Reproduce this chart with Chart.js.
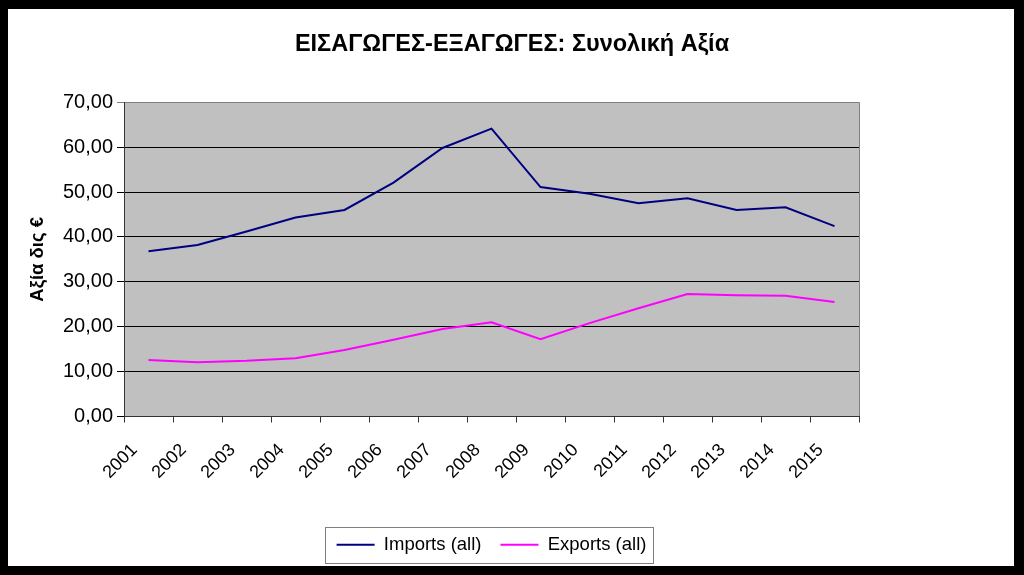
<!DOCTYPE html>
<html>
<head>
<meta charset="utf-8">
<title>ΕΙΣΑΓΩΓΕΣ-ΕΞΑΓΩΓΕΣ</title>
<script src="https://cdn.jsdelivr.net/npm/chart.js@4/dist/chart.umd.min.js"></script>
<style>
    html, body { margin: 0; padding: 0; background: #000; }
    canvas { display: block; }
</style>
</head>
<body>
<canvas id="tradeChart" width="1024" height="575"></canvas>
<script>
const years = ['2001', '2002', '2003', '2004', '2005', '2006', '2007', '2008',
               '2009', '2010', '2011', '2012', '2013', '2014', '2015'];
const importsAll = [36.8, 38.2, 41.2, 44.3, 46.0, 52.1, 59.8, 64.1,
                    51.1, 49.6, 47.5, 48.6, 46.0, 46.6, 42.4];
const exportsAll = [12.6, 12.1, 12.4, 13.0, 14.8, 17.1, 19.5, 21.0,
                    17.2, 20.8, 24.1, 27.3, 27.0, 26.9, 25.5];
const seriesNames = ['Imports (all)', 'Exports (all)'];
const chartTitle = 'ΕΙΣΑΓΩΓΕΣ-ΕΞΑΓΩΓΕΣ: Συνολική Αξία';
const yAxisTitle = 'Αξία δις €';

Chart.defaults.font.family = '"Liberation Sans", Arial, sans-serif';
Chart.defaults.color = '#000';

// black frame, white page, grey plot area, legend box
const framePlugin = {
    id: 'frame',
    beforeDraw(chart) {
        const { ctx, width, height, chartArea: a } = chart;
        ctx.save();
        ctx.fillStyle = '#000';
        ctx.fillRect(0, 0, width, height);
        ctx.fillStyle = '#fff';
        ctx.fillRect(8, 9, width - 18, height - 18);
        ctx.fillStyle = '#c0c0c0';
        ctx.fillRect(a.left, a.top, a.right - a.left, a.bottom - a.top);
        ctx.strokeStyle = '#808080';
        ctx.lineWidth = 1;
        ctx.beginPath();
        ctx.moveTo(Math.round(a.right) + 0.5, a.top);
        ctx.lineTo(Math.round(a.right) + 0.5, a.bottom);
        ctx.stroke();
        ctx.restore();
    },
    afterDraw(chart) {
        const boxes = chart.legend?.legendHitBoxes;
        if (!boxes || !boxes.length) return;
        const { ctx } = chart;
        const left = Math.min(...boxes.map(b => b.left)) - 12;
        const right = Math.max(...boxes.map(b => b.left + b.width)) + 6;
        const top = boxes[0].top - 9;
        const bottom = boxes[0].top + boxes[0].height + 8;
        ctx.save();
        ctx.strokeStyle = '#808080';
        ctx.lineWidth = 1;
        ctx.strokeRect(Math.round(left) + 0.5, Math.round(top) + 0.5,
                       Math.round(right - left), Math.round(bottom - top));
        ctx.restore();
    }
};

const ctx = document.getElementById('tradeChart').getContext('2d');
new Chart(ctx, {
    type: 'line',
    data: {
        labels: years,
        datasets: [
            {
                label: seriesNames[0],
                data: importsAll,
                borderColor: '#000080',
                backgroundColor: '#000080',
                borderWidth: 2,
                tension: 0,
                pointRadius: 0
            },
            {
                label: seriesNames[1],
                data: exportsAll,
                borderColor: '#ff00ff',
                backgroundColor: '#ff00ff',
                borderWidth: 2,
                tension: 0,
                pointRadius: 0
            }
        ]
    },
    options: {
        responsive: false,
        animation: false,
        layout: { padding: { left: 10, right: 10, top: 0, bottom: 11 } },
        plugins: {
            title: {
                display: true,
                text: chartTitle,
                font: { size: 23.5, weight: 'bold' },
                color: '#000',
                padding: { top: 30, bottom: 44 }
            },
            legend: {
                position: 'bottom',
                fullSize: false,
                maxHeight: 57,
                labels: {
                    usePointStyle: true,
                    pointStyle: 'line',
                    pointStyleWidth: 38,
                    boxHeight: 18,
                    padding: 19,
                    color: '#000',
                    font: { size: 18.5 }
                }
            },
            tooltip: { enabled: false }
        },
        scales: {
            x: {
                offset: true,
                afterFit: scale => { scale.height = 100; },
                grid: {
                    offset: true,
                    drawOnChartArea: false,
                    tickLength: 6,
                    color: '#333'
                },
                border: { color: '#333' },
                ticks: {
                    autoSkip: false,
                    minRotation: 45,
                    maxRotation: 45,
                    padding: 17,
                    labelOffset: -14,
                    font: { size: 18 },
                    color: '#000'
                }
            },
            y: {
                min: 0,
                max: 70,
                afterFit: scale => { scale.width = 114; },
                title: {
                    display: true,
                    text: yAxisTitle,
                    font: { size: 18.5, weight: 'bold' },
                    color: '#000',
                    padding: { top: 17, bottom: 0 }
                },
                grid: {
                    tickLength: 7,
                    color: c => (c.tick && c.tick.value === 70 ? '#808080' : '#000')
                },
                border: { color: '#333' },
                ticks: {
                    stepSize: 10,
                    padding: 4,
                    font: { size: 20 },
                    color: '#000',
                    callback: value => value.toFixed(2).replace('.', ',')
                }
            },
            // empty right-hand strip so the title stays centred on the page
            yRight: {
                position: 'right',
                min: 0,
                max: 70,
                afterFit: scale => { scale.width = 155; },
                grid: { display: false },
                border: { display: false },
                ticks: { display: false }
            }
        }
    },
    plugins: [framePlugin]
});
</script>
</body>
</html>
